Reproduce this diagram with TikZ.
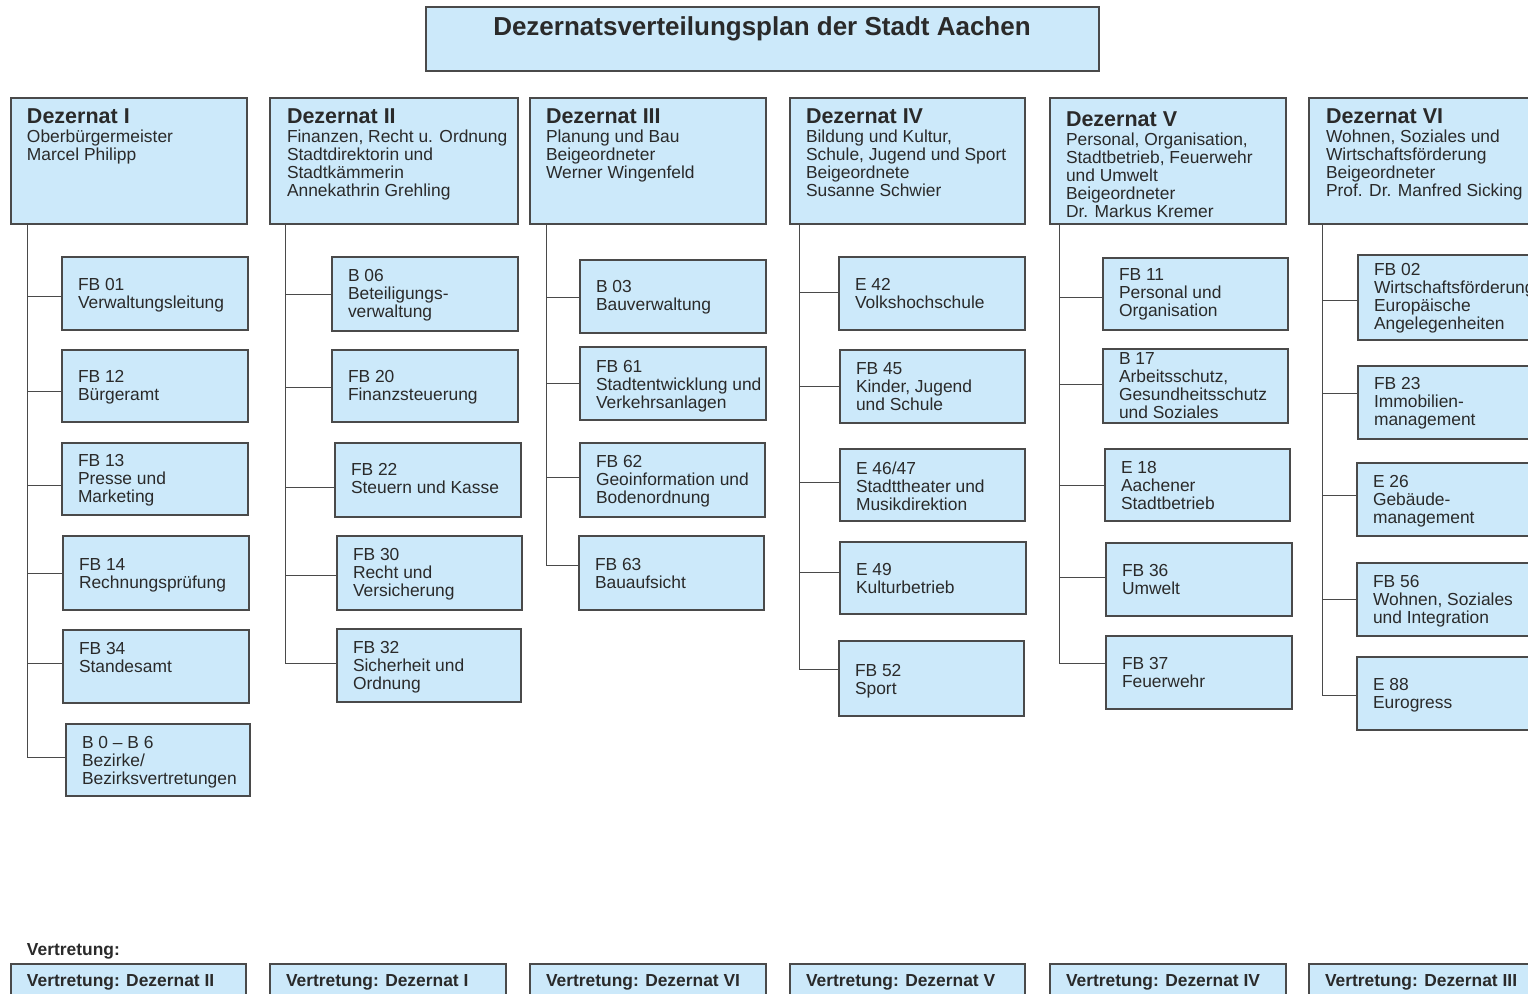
\documentclass[tikz,border=0pt]{standalone}
\usepackage{fontspec}
\setmainfont{Liberation Sans}
\definecolor{boxfill}{HTML}{CCE9FA}
\definecolor{boxline}{HTML}{4A4A4A}
\definecolor{txtc}{HTML}{2A2A2A}
\newcommand\bodyfont{\fontsize{17.4}{18}\selectfont}
\newcommand\headfont{\fontsize{21.5}{18}\selectfont\bfseries}
\tikzset{
  box/.style={draw=boxline, fill=boxfill, line width=1.3pt, anchor=north west, inner sep=0pt, outer sep=0pt},
  txt/.style={anchor=north west, inner sep=0pt, outer sep=0pt, align=left, text=txtc, font=\bodyfont},
  conn/.style={draw=boxline, line width=1pt},
}
\newcommand\subbox[7]{%
  \node[box, minimum width={#4-#2}, minimum height={#5-#3}] (#1) at (#2,#3) {};
  \node[txt] (#1-t) at ({#2+16},{#6-6.2}) {#7};
}
% name, spine coordinate, vertical offset of the connector from the box centre
\newcommand\hook[3]{%
  \path (#1.west) ++(0,#3) coordinate (#1-h);
  \draw[conn] (#1-h) -- (#1-h -| #2);}
\newcommand\dez[6]{% name,l,r,textx,fc,text
  \node[box, minimum width={#3-#2}, minimum height=126] (#1) at (#2,98) {};
  \node[txt] (#1-t) at (#4,{#5-7.7}) {#6};
}
\begin{document}
\begin{tikzpicture}[x=1pt,y=-1pt]
\useasboundingbox (0,0) rectangle (1528,993);

% title
\node[box, minimum width=673, minimum height=64] (title) at (426,7) {};
\node[anchor=north, inner sep=0pt, text=txtc, font=\fontsize{26}{30}\selectfont\bfseries] (title-t) at (762,16.7) {Dezernatsverteilungsplan der Stadt Aachen};

% Dezernat headers
\dez{dI}{11}{247}{27}{116}{{\headfont Dezernat I}\\[1.5pt]Oberbürgermeister\\Marcel Philipp}
\dez{dII}{270}{518}{287}{116}{{\headfont Dezernat II}\\[1.5pt]Finanzen, Recht u. Ordnung\\Stadtdirektorin und\\Stadtkämmerin\\Annekathrin Grehling}
\dez{dIII}{530}{766}{546}{116}{{\headfont Dezernat III}\\[1.5pt]Planung und Bau\\Beigeordneter\\Werner Wingenfeld}
\dez{dIV}{790}{1025}{806}{116}{{\headfont Dezernat IV}\\[1.5pt]Bildung und Kultur,\\Schule, Jugend und Sport\\Beigeordnete\\Susanne Schwier}
\dez{dV}{1050}{1286}{1066}{119}{{\headfont Dezernat V}\\[1.5pt]Personal, Organisation,\\Stadtbetrieb, Feuerwehr\\und Umwelt\\Beigeordneter\\Dr. Markus Kremer}
\dez{dVI}{1309}{1545}{1326}{116}{{\headfont Dezernat VI}\\[1.5pt]Wohnen, Soziales und\\Wirtschaftsförderung\\Beigeordneter\\Prof. Dr. Manfred Sicking}

% column spine coordinates
\coordinate (cI) at (27,224);
\coordinate (cII) at (285,224);
\coordinate (cIII) at (546,224);
\coordinate (cIV) at (799,224);
\coordinate (cV) at (1059,224);
\coordinate (cVI) at (1322,224);

% Column I
\subbox{fb01}{62}{257}{248}{330}{285}{FB 01\\Verwaltungsleitung}
\subbox{fb12}{62}{350}{248}{422}{377}{FB 12\\Bürgeramt}
\subbox{fb13}{62}{443}{248}{515}{461}{FB 13\\Presse und\\Marketing}
\subbox{fb14}{63}{536}{249}{610}{565}{FB 14\\Rechnungsprüfung}
\subbox{fb34}{63}{630}{249}{703}{649}{FB 34\\Standesamt}
\subbox{b06b}{66}{724}{250}{796}{743}{B 0 – B 6\\Bezirke/\\Bezirksvertretungen}
\hook{fb01}{cI}{2.5}\hook{fb12}{cI}{5}\hook{fb13}{cI}{6}\hook{fb14}{cI}{0}\hook{fb34}{cI}{-3.5}\hook{b06b}{cI}{-3}
\draw[conn] (dI.south -| cI) -- (b06b-h -| cI);

% Column II
\subbox{b06}{332}{257}{518}{331}{276}{B 06\\Beteiligungs-\\verwaltung}
\subbox{fb20}{332}{350}{518}{422}{377}{FB 20\\Finanzsteuerung}
\subbox{fb22}{335}{443}{521}{517}{470}{FB 22\\Steuern und Kasse}
\subbox{fb30}{337}{536}{522}{610}{555}{FB 30\\Recht und\\Versicherung}
\subbox{fb32}{337}{629}{521}{702}{648}{FB 32\\Sicherheit und\\Ordnung}
\hook{b06}{cII}{0}\hook{fb20}{cII}{1}\hook{fb22}{cII}{7}\hook{fb30}{cII}{2}\hook{fb32}{cII}{-2.5}
\draw[conn] (dII.south -| cII) -- (fb32-h -| cII);

% Column III
\subbox{b03}{580}{260}{766}{333}{287}{B 03\\Bauverwaltung}
\subbox{fb61}{580}{347}{766}{420}{367}{FB 61\\Stadtentwicklung und\\Verkehrsanlagen}
\subbox{fb62}{580}{443}{765}{517}{462}{FB 62\\Geoinformation und\\Bodenordnung}
\subbox{fb63}{579}{536}{764}{610}{565}{FB 63\\Bauaufsicht}
\hook{b03}{cIII}{0.5}\hook{fb61}{cIII}{0}\hook{fb62}{cIII}{-3}\hook{fb63}{cIII}{-8}
\draw[conn] (dIII.south -| cIII) -- (fb63-h -| cIII);

% Column IV
\subbox{e42}{839}{257}{1025}{330}{285}{E 42\\Volkshochschule}
\subbox{fb45}{840}{350}{1025}{423}{369}{FB 45\\Kinder, Jugend\\und Schule}
\subbox{e46}{840}{449}{1025}{521}{468}{E 46/47\\Stadttheater und\\Musikdirektion}
\subbox{e49}{840}{542}{1026}{614}{570}{E 49\\Kulturbetrieb}
\subbox{fb52}{839}{641}{1024}{716}{671}{FB 52\\Sport}
\hook{e42}{cIV}{-1.5}\hook{fb45}{cIV}{0}\hook{e46}{cIV}{-3}\hook{e49}{cIV}{-6}\hook{fb52}{cIV}{-9.5}
\draw[conn] (dIV.south -| cIV) -- (fb52-h -| cIV);

% Column V
\subbox{fb11}{1103}{258}{1288}{330}{275}{FB 11\\Personal und\\Organisation}
\subbox{b17}{1103}{349}{1288}{423}{359}{B 17\\Arbeitsschutz,\\Gesundheitsschutz\\und Soziales}
\subbox{e18}{1105}{449}{1290}{521}{468}{E 18\\Aachener\\Stadtbetrieb}
\subbox{fb36}{1106}{543}{1292}{616}{571}{FB 36\\Umwelt}
\subbox{fb37}{1106}{636}{1292}{709}{664}{FB 37\\Feuerwehr}
\hook{fb11}{cV}{3}\hook{b17}{cV}{-2}\hook{e18}{cV}{0}\hook{fb36}{cV}{-2.5}\hook{fb37}{cV}{-9.5}
\draw[conn] (dV.south -| cV) -- (fb37-h -| cV);

% Column VI
\subbox{fb02}{1358}{255}{1545}{340}{270}{FB 02\\Wirtschaftsförderung\\Europäische\\Angelegenheiten}
\subbox{fb23}{1358}{366}{1545}{439}{384}{FB 23\\Immobilien-\\management}
\subbox{e26}{1357}{463}{1545}{536}{482}{E 26\\Gebäude-\\management}
\subbox{fb56}{1357}{563}{1545}{636}{582}{FB 56\\Wohnen, Soziales\\und Integration}
\subbox{e88}{1357}{657}{1545}{730}{685}{E 88\\Eurogress}
\hook{fb02}{cVI}{2.5}\hook{fb23}{cVI}{-9.5}\hook{e26}{cVI}{-4.5}\hook{fb56}{cVI}{0}\hook{e88}{cVI}{1.5}
\draw[conn] (dVI.south -| cVI) -- (e88-h -| cVI);

% Vertretung
\node[txt, font=\bodyfont\bfseries] (vlabel) at (27,943.8) {Vertretung:};
\subbox{rI}{11}{964}{246}{1010}{981}{\textbf{Vertretung: Dezernat II}}
\subbox{rII}{270}{964}{506}{1010}{981}{\textbf{Vertretung: Dezernat I}}
\subbox{rIII}{530}{964}{766}{1010}{981}{\textbf{Vertretung: Dezernat VI}}
\subbox{rIV}{790}{964}{1025}{1010}{981}{\textbf{Vertretung: Dezernat V}}
\subbox{rV}{1050}{964}{1286}{1010}{981}{\textbf{Vertretung: Dezernat IV}}
\subbox{rVI}{1309}{964}{1545}{1010}{981}{\textbf{Vertretung: Dezernat III}}
\end{tikzpicture}
\end{document}
